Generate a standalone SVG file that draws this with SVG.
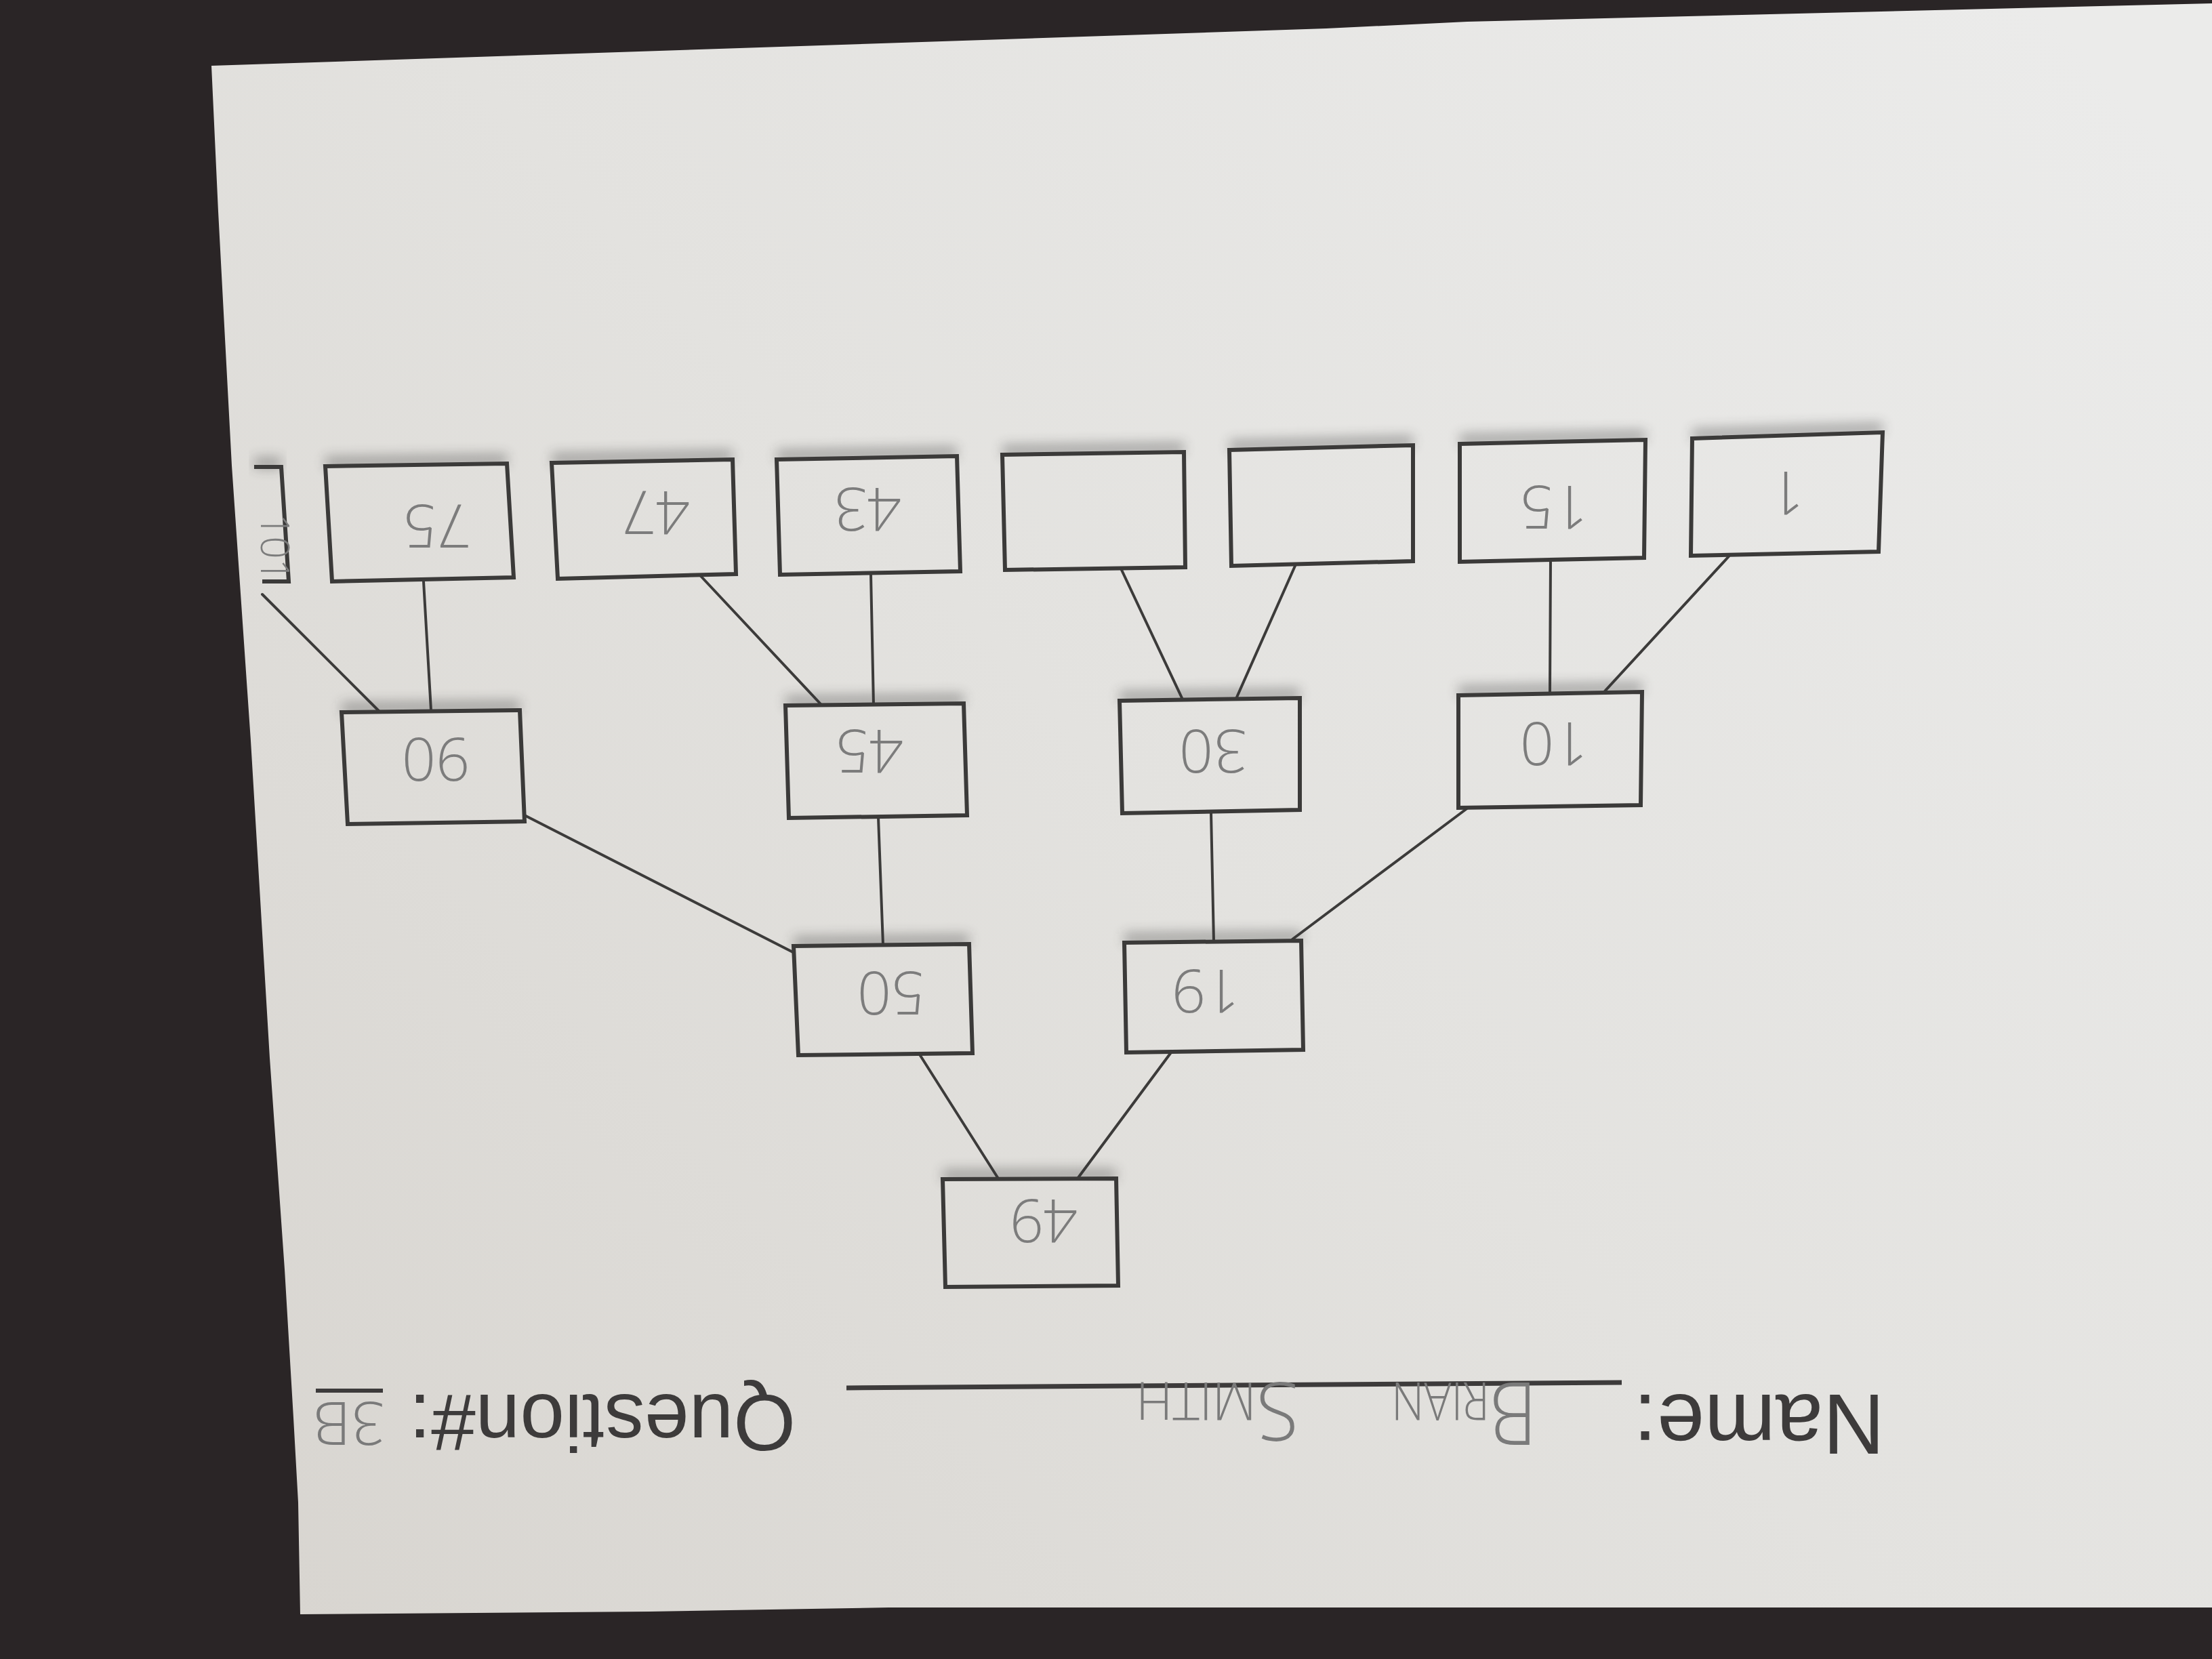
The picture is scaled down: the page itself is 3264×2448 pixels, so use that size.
<svg xmlns="http://www.w3.org/2000/svg" width="3264" height="2448" viewBox="0 0 3264 2448">
<style>
.box{fill:url(#paperG);stroke:#3b3a39;stroke-width:6;stroke-linejoin:miter}
.cut{fill:none;stroke:#3b3a39;stroke-width:6}
.sh{fill:#333;opacity:0.38;filter:url(#blur)}
.lbl{font-family:"Open Sans","DejaVu Sans",sans-serif;font-weight:300;font-size:88px;fill:#7c7c7c;text-anchor:middle}
.hand{font-family:"Open Sans","DejaVu Sans",sans-serif;font-weight:300;fill:#7a7a7a}
.print{font-family:"Liberation Sans",Arial,sans-serif;fill:#3d3b3b}
#connectors line{stroke:#3c3b3a;stroke-width:4;stroke-linecap:round}
</style>
<defs>
<linearGradient id="paperG" gradientUnits="userSpaceOnUse" x1="3000" y1="0" x2="400" y2="2400">
<stop offset="0" stop-color="#ebebea"/>
<stop offset="0.5" stop-color="#e3e2df"/>
<stop offset="1" stop-color="#d8d5d0"/>
</linearGradient>
<filter id="blur" x="-20%" y="-200%" width="140%" height="500%"><feGaussianBlur stdDeviation="9"/></filter>
</defs>
<rect x="0" y="0" width="3264" height="2448" fill="#2a2526"/>
<path id="paper" fill="url(#paperG)" d="M312,97 L1957,42 L2165,32 L3264,5 L3264,2372 L1311,2372 L958,2378 L443,2382 L440,2217 L433,2092 L420,1873 L398,1561 L370,1093 L342,687 L322,312 Z"/>

<g id="connectors">
<line x1="2551" y1="821" x2="2367" y2="1021"/>
<line x1="2288" y1="827" x2="2287" y2="1022"/>
<line x1="1911" y1="835" x2="1824" y2="1031"/>
<line x1="1655" y1="841" x2="1745" y2="1032"/>
<line x1="1285" y1="847" x2="1289" y2="1040"/>
<line x1="1034" y1="850" x2="1212" y2="1040"/>
<line x1="625" y1="858" x2="636" y2="1048"/>
<line x1="387" y1="877" x2="559" y2="1049"/>
<line x1="2166" y1="1192" x2="1907" y2="1386"/>
<line x1="1787" y1="1199" x2="1791" y2="1389"/>
<line x1="1296" y1="1206" x2="1303" y2="1394"/>
<line x1="774" y1="1203" x2="1170" y2="1405"/>
<line x1="1728" y1="1553" x2="1590" y2="1739"/>
<line x1="1357" y1="1556" x2="1473" y2="1739"/>
</g>

<g id="node-1">
<polygon class="sh" points="2497,649 2778,640 2778,624 2497,633"/>
<polygon class="box" points="2497,647 2778,638 2772,814 2495,820"/>
<text class="lbl" x="2637" y="727" dy="0.35em" transform="rotate(180 2637 727)">1</text>
</g>
<g id="node-15">
<polygon class="sh" points="2154,657 2428,651 2428,635 2154,641"/>
<polygon class="box" points="2154,655 2428,649 2426,823 2154,829"/>
<text class="lbl" x="2293" y="748" dy="0.35em" transform="rotate(180 2293 748)">15</text>
</g>
<g id="node-empty-b">
<polygon class="sh" points="1814,666 2085,659 2085,643 1814,650"/>
<polygon class="box" points="1814,664 2085,657 2085,828 1817,835"/>
</g>
<g id="node-empty-a">
<polygon class="sh" points="1479,673 1747,669 1747,653 1479,657"/>
<polygon class="box" points="1479,671 1747,667 1749,837 1483,841"/>
</g>
<g id="node-43">
<polygon class="sh" points="1146,680 1412,675 1412,659 1146,664"/>
<polygon class="box" points="1146,678 1412,673 1417,843 1151,848"/>
<text class="lbl" x="1280" y="751" dy="0.35em" transform="rotate(180 1280 751)">43</text>
</g>
<g id="node-47">
<polygon class="sh" points="814,685 1081,680 1081,664 814,669"/>
<polygon class="box" points="814,683 1081,678 1086,847 823,854"/>
<text class="lbl" x="968" y="756" dy="0.35em" transform="rotate(180 968 756)">47</text>
</g>
<g id="node-75">
<polygon class="sh" points="480,690 748,686 748,670 480,674"/>
<polygon class="box" points="480,688 748,684 758,852 490,858"/>
<text class="lbl" x="645" y="776" dy="0.35em" transform="rotate(180 645 776)">75</text>
</g>
<g id="node-101">
<polygon class="sh" points="375,691 415,691 415,675 375,675"/>
<path class="cut" d="M375,689 L415,689 L426,858 L387,858"/>
<text class="lbl" x="405" y="808" dy="0.35em" style="font-size:58px" transform="rotate(90 405 808)">101</text>
</g>

<g id="node-10">
<polygon class="sh" points="2152,1028 2423,1023 2423,1007 2152,1012"/>
<polygon class="box" points="2152,1026 2423,1021 2421,1188 2152,1192"/>
<text class="lbl" x="2293" y="1097" dy="0.35em" transform="rotate(180 2293 1097)">10</text>
</g>
<g id="node-30">
<polygon class="sh" points="1652,1036 1918,1032 1918,1016 1652,1020"/>
<polygon class="box" points="1652,1034 1918,1030 1918,1195 1656,1200"/>
<text class="lbl" x="1790" y="1108" dy="0.35em" transform="rotate(180 1790 1108)">30</text>
</g>
<g id="node-45">
<polygon class="sh" points="1159,1043 1422,1040 1422,1024 1159,1027"/>
<polygon class="box" points="1159,1041 1422,1038 1427,1203 1164,1207"/>
<text class="lbl" x="1283" y="1108" dy="0.35em" transform="rotate(180 1283 1108)">45</text>
</g>
<g id="node-90">
<polygon class="sh" points="504,1053 767,1050 767,1034 504,1037"/>
<polygon class="box" points="504,1051 767,1048 774,1212 513,1216"/>
<text class="lbl" x="643" y="1120" dy="0.35em" transform="rotate(180 643 1120)">90</text>
</g>

<g id="node-19">
<polygon class="sh" points="1659,1393 1920,1390 1920,1374 1659,1377"/>
<polygon class="box" points="1659,1391 1920,1388 1923,1549 1662,1553"/>
<text class="lbl" x="1779" y="1462" dy="0.35em" transform="rotate(180 1779 1462)">19</text>
</g>
<g id="node-50">
<polygon class="sh" points="1171,1398 1430,1395 1430,1379 1171,1382"/>
<polygon class="box" points="1171,1396 1430,1393 1435,1554 1178,1557"/>
<text class="lbl" x="1315" y="1465" dy="0.35em" transform="rotate(180 1315 1465)">50</text>
</g>
<g id="node-49">
<polygon class="sh" points="1391,1742 1647,1741 1647,1725 1391,1726"/>
<polygon class="box" points="1391,1740 1647,1739 1650,1897 1395,1899"/>
<text class="lbl" x="1540" y="1801" dy="0.35em" transform="rotate(180 1540 1801)">49</text>
</g>

<g id="header">
<text class="print" font-size="126" transform="translate(2781,2058) rotate(180)">Name:</text>
<line x1="1249" y1="2048" x2="2393" y2="2040" stroke="#3d3b3b" stroke-width="7"/>
<text class="hand" transform="translate(2268,2040) rotate(180)" textLength="215" lengthAdjust="spacingAndGlyphs"><tspan font-size="130">B</tspan><tspan font-size="78">RIAN</tspan></text>
<text class="hand" transform="translate(1917,2040) rotate(180)" textLength="241" lengthAdjust="spacingAndGlyphs"><tspan font-size="120">S</tspan><tspan font-size="78">MITH</tspan></text>
<text class="print" font-size="118" transform="translate(1174,2058) rotate(180)">Question#:</text>
<line x1="466" y1="2052" x2="565" y2="2052" stroke="#3d3b3b" stroke-width="6"/>
<text class="hand" font-size="88" x="515" y="2100" dy="0.35em" text-anchor="middle" transform="rotate(180 515 2100)">3B</text>
</g>
</svg>
